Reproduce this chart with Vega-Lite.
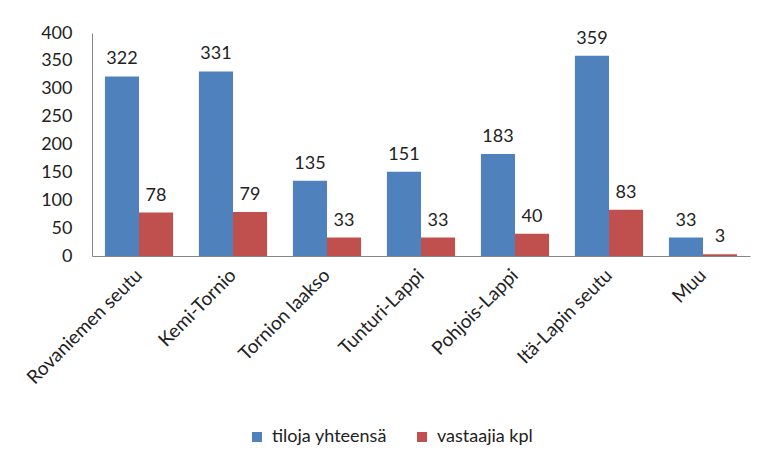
{
  "$schema": "https://vega.github.io/schema/vega-lite/v6.json",
  "autosize": {"type": "none"},
  "width": 658,
  "height": 223,
  "padding": {"left": 92, "top": 33, "right": 15, "bottom": 203},
  "background": "white",
  "config": {
    "view": {"stroke": null},
    "font": "Lato",
    "text": {"font": "Lato"}
  },
  "data": {
    "values": [
      {"alue": "Rovaniemen seutu", "sarja": "tiloja yhteensä", "arvo": 322},
      {"alue": "Rovaniemen seutu", "sarja": "vastaajia kpl", "arvo": 78},
      {"alue": "Kemi-Tornio", "sarja": "tiloja yhteensä", "arvo": 331},
      {"alue": "Kemi-Tornio", "sarja": "vastaajia kpl", "arvo": 79},
      {"alue": "Tornion laakso", "sarja": "tiloja yhteensä", "arvo": 135},
      {"alue": "Tornion laakso", "sarja": "vastaajia kpl", "arvo": 33},
      {"alue": "Tunturi-Lappi", "sarja": "tiloja yhteensä", "arvo": 151},
      {"alue": "Tunturi-Lappi", "sarja": "vastaajia kpl", "arvo": 33},
      {"alue": "Pohjois-Lappi", "sarja": "tiloja yhteensä", "arvo": 183},
      {"alue": "Pohjois-Lappi", "sarja": "vastaajia kpl", "arvo": 40},
      {"alue": "Itä-Lapin seutu", "sarja": "tiloja yhteensä", "arvo": 359},
      {"alue": "Itä-Lapin seutu", "sarja": "vastaajia kpl", "arvo": 83},
      {"alue": "Muu", "sarja": "tiloja yhteensä", "arvo": 33},
      {"alue": "Muu", "sarja": "vastaajia kpl", "arvo": 3}
    ]
  },
  "encoding": {
    "x": {
      "field": "alue",
      "type": "nominal",
      "sort": null,
      "scale": {"paddingInner": 0.275, "paddingOuter": 0.1375},
      "axis": {
        "title": null,
        "labelAngle": -45,
        "labelAlign": "right",
        "labelBaseline": "middle",
        "labelFontSize": 19,
        "labelColor": "#222",
        "labelPadding": 16,
        "ticks": false,
        "domainColor": "#868686",
        "labelLimit": 300
      }
    },
    "xOffset": {"field": "sarja", "type": "nominal"},
    "y": {
      "field": "arvo",
      "type": "quantitative",
      "scale": {"domain": [0, 400]},
      "axis": {
        "title": null,
        "values": [0, 50, 100, 150, 200, 250, 300, 350, 400],
        "grid": false,
        "ticks": false,
        "labelFontSize": 18,
        "labelColor": "#222",
        "labelPadding": 20,
        "domainColor": "#868686"
      }
    }
  },
  "layer": [
    {
      "mark": {"type": "bar"},
      "encoding": {
        "color": {
          "field": "sarja",
          "type": "nominal",
          "scale": {"domain": ["tiloja yhteensä", "vastaajia kpl"], "range": ["#4F81BD", "#C0504D"]},
          "legend": {
            "title": null,
            "orient": "none",
            "direction": "horizontal",
            "legendX": 156,
            "legendY": 395,
            "symbolType": "square",
            "symbolSize": 100,
            "symbolStrokeWidth": 0,
            "labelFontSize": 18,
            "labelColor": "#222",
            "labelOffset": 6,
            "columnPadding": 26
          }
        }
      }
    },
    {
      "mark": {"type": "text", "baseline": "bottom", "dy": -8, "fontSize": 18, "color": "#222"},
      "encoding": {"text": {"field": "arvo", "type": "quantitative"}}
    }
  ]
}
